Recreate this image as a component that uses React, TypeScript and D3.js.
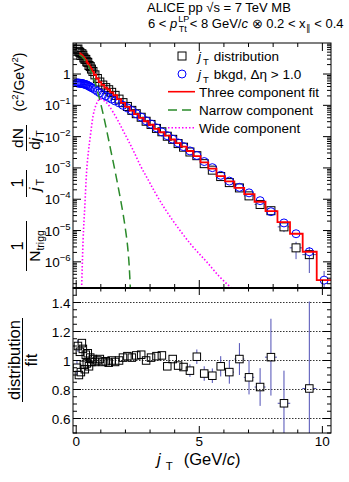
import React from "react";
import * as d3 from "d3";

const FONT = "'Liberation Sans', Arial, Helvetica, sans-serif";

// bin centres (jT, GeV/c)
const jT = [0.03, 0.07, 0.11, 0.15, 0.19, 0.23, 0.27, 0.31, 0.35, 0.39, 0.43, 0.47,
  0.52, 0.57, 0.62, 0.68, 0.76, 0.86, 0.96,
  1.08, 1.2, 1.32, 1.44, 1.58, 1.74, 1.9,
  2.08, 2.26, 2.44, 2.64, 2.84, 3.04, 3.26, 3.48, 3.7, 3.92,
  4.14, 4.36, 4.62, 4.9, 5.2, 5.53, 5.87, 6.22, 6.63,
  7.02, 7.47, 7.91, 8.44, 8.93, 9.47, 10.07];

// jT distribution (black squares)
const distVals = [6.0, 6.3, 5.2, 4.9, 3.9, 4.46, 4.0, 3.29, 2.97, 2.93, 2.46, 2.35,
  1.87, 1.73, 1.44, 1.21, 0.94, 0.72, 0.555,
  0.445, 0.368, 0.315, 0.26, 0.208, 0.158, 0.122,
  0.092, 0.069, 0.054, 0.0416, 0.031, 0.0245, 0.0183, 0.0143, 0.0103, 0.0082,
  0.006, 0.0046, 0.00323, 0.00246, 0.00137, 8.5e-4, 5.3e-4, 3.4e-4, 2.3e-4,
  1.28e-4, 6.8e-5, 4.3e-5, 1.31e-5, 2.8e-6, 1.7e-6, null];

// jT bkgd, deta > 1.0 (blue circles)
const bkgdVals = [0.52, 0.52, 0.51, 0.51, 0.5, 0.5, 0.49, 0.48, 0.47, 0.46, 0.45, 0.43,
  0.41, 0.39, 0.37, 0.35, 0.32, 0.28, 0.25,
  0.22, 0.2, 0.178, 0.158, 0.138, 0.12, 0.1,
  0.083, 0.068, 0.054, 0.042, 0.032, 0.025, 0.019, 0.0141, 0.0107, 0.0083,
  0.0063, 0.0048, 0.0035, 0.0025, 0.0016, 0.00102, 5.8e-4, 3.8e-4, 2.4e-4,
  1.6e-4, 9.0e-5, 4.0e-5, 1.75e-5, 7.9e-6, 2.1e-6, 2.6e-7];
const bkgdErrJT = [7.91, 8.44, 8.93, 9.47, 10.07];
const bkgdErrVals = [6e-6, 3e-6, 1.5e-6, 0.8e-6, 2.5e-7];

// three component fit (red histogram)
const fitVals = [null, null, null, 4.6, 4.27, 3.98, 3.72, 3.39, 3.16, 2.82, 2.51, 2.24,
  1.95, 1.7, 1.45, 1.2, 0.95, 0.72, 0.55,
  0.45, 0.37, 0.32, 0.26, 0.21, 0.158, 0.12,
  0.089, 0.068, 0.052, 0.04, 0.031, 0.024, 0.0178, 0.0138, 0.0107, 0.0081,
  0.0062, 0.0048, 0.00347, 0.0024, 0.00151, 9.5e-4, 5.5e-4, 3.7e-4, 2.3e-4,
  1.45e-4, 8.3e-5, 4.2e-5, 1.86e-5, 7.9e-6, 2.1e-6, 2.6e-7];

// distribution / fit
const ratioVals = [0.95, 1.1, 0.9, 1.06, 0.92, 1.12, 1.08, 0.97, 0.94, 1.04, 0.98, 1.05,
  0.96, 1.02, 0.99, 1.01, 0.99, 1.0, 1.01,
  0.99, 0.995, 0.985, 1.0, 0.99, 1.0, 1.02,
  1.03, 1.02, 1.035, 1.04, 1.0, 1.02, 1.03, 1.035, 0.96, 1.01,
  0.965, 0.955, 0.93, 1.026, 0.91, 0.895, 0.96, 0.92, 1.01,
  0.884, 0.817, 1.023, 0.705, 0.35, 0.807, null];
const ratioErrs = [0.05, 0.04, 0.03, 0.025, 0.02, 0.02, 0.02, 0.015, 0.015, 0.015, 0.015, 0.015,
  0.012, 0.012, 0.012, 0.012, 0.01, 0.01, 0.01,
  0.01, 0.01, 0.01, 0.01, 0.01, 0.01, 0.01,
  0.012, 0.012, 0.012, 0.012, 0.014, 0.015, 0.016, 0.018, 0.02, 0.02,
  0.025, 0.023, 0.043, 0.05, 0.05, 0.05, 0.07, 0.08, 0.11,
  0.118, 0.13, 0.265, 0.225, 0.2, 0.6, null];

// narrow component (green dashed)
const narrowJT = [0.12, 0.2, 0.3, 0.4, 0.5, 0.6, 0.7, 0.8, 0.9, 1.0, 1.1, 1.2, 1.3, 1.4,
  1.5, 1.6, 1.7, 1.8, 1.9, 2.0, 2.1, 2.15, 2.2];
const narrowVals = [4.1, 3.8, 3.2, 2.5, 1.8, 1.2, 0.74, 0.42, 0.22, 0.11, 0.05, 0.022, 0.0092,
  3.8e-3, 1.6e-3, 6.5e-4, 2.6e-4, 1.0e-4, 3.6e-5, 1.1e-5, 2.5e-6, 8e-7, 1.4e-7];

// wide component (magenta dotted)
const wideJT = [0.22, 0.28, 0.35, 0.42, 0.5, 0.56, 0.69, 0.8, 0.9, 0.96, 1.1, 1.3, 1.5, 1.7,
  1.9, 2.1, 2.35, 2.59, 2.9, 3.2, 3.6, 4.2, 4.7, 5.3, 5.8, 6.33];
const wideVals = [1.4e-7, 5.0e-6, 5.9e-5, 7.1e-4, 3.5e-3, 8.5e-3, 0.048, 0.1, 0.145, 0.162,
  0.148, 0.105, 0.06, 0.032, 0.0158, 0.0079, 3.2e-3, 1.26e-3, 4.5e-4, 1.66e-4, 5.0e-5,
  1.05e-5, 3.3e-6, 1.0e-6, 3.5e-7, 1.4e-7];

const decadeExps = [-6, -5, -4, -3, -2, -1];
const ratioTickVals = [0.6, 0.8, 1, 1.2, 1.4];
const ratioTickLabels = ["0.6", "0.8", "1", "1.2", "1.4"];
const xTickVals = [0, 5, 10];
const xTickLabels = ["0", "5", "10"];

const ERR = "#4f4fb5";

export default function App() {
  const L = 73, R = 331, T = 43, M = 288, B = 433;
  const x = d3.scaleLinear().domain([-0.13, 10.35]).range([L, R]);
  const yDom: [number, number] = [1.46e-7, 9.8];
  const yT = d3.scaleLog().domain(yDom).range([M, T]);
  const yR = d3.scaleLinear().domain([0.5, 1.5]).range([B, M]);

  const n = jT.length;
  const edges: number[] = jT.map((v, i) => (i === 0 ? v - (jT[1] - jT[0]) / 2 : (jT[i - 1] + v) / 2));
  edges.push(jT[n - 1] + (jT[n - 1] - jT[n - 2]) / 2);

  const fitPts: [number, number][] = [];
  let lastFit = 0;
  for (let i = 0; i < n; i++) {
    const f = fitVals[i];
    if (f != null) { fitPts.push([edges[i], f]); lastFit = f; }
  }
  fitPts.push([edges[n], lastFit]);
  const fitLine = d3.line<[number, number]>().x(d => x(d[0])).y(d => yT(d[1])).curve(d3.curveStepAfter);
  const smooth = d3.line<[number, number]>().x(d => x(d[0])).y(d => yT(d[1])).curve(d3.curveMonotoneX);
  const narrowPath = smooth(narrowJT.map((v, i) => [v, narrowVals[i]] as [number, number])) || "";
  const widePath = smooth(wideJT.map((v, i) => [v, wideVals[i]] as [number, number])) || "";

  // ticks
  const topTicks: { v: number; major: boolean }[] = [];
  for (let e = -7; e <= 0; e++) {
    for (let k = 1; k <= 9; k++) {
      const v = k * Math.pow(10, e);
      if (v >= yDom[0] && v <= yDom[1]) topTicks.push({ v, major: k === 1 });
    }
  }
  const ratioMinor = d3.range(0, 21).map(i => 0.5 + i * 0.05);
  const xMinor = d3.range(0, 11);

  const MS = 8; // square size top
  const MSb = 7.5;

  const topErr: JSX.Element[] = [];
  const squares: JSX.Element[] = [];
  const circles: JSX.Element[] = [];
  for (let i = 0; i < n; i++) {
    const d = distVals[i];
    const cx = x(jT[i]);
    if (d != null) {
      const cy = yT(d);
      const f = fitVals[i];
      const re = ratioErrs[i];
      if (f != null && re != null) {
        const e = re * f;
        const yHi = yT(d + e);
        const yLo = d - e > yDom[0] ? yT(d - e) : M + 2;
        if (cy - yHi > MS / 2) topErr.push(<line key={"eu" + i} x1={cx} x2={cx} y1={yHi} y2={cy - MS / 2} />);
        if (yLo - cy > MS / 2) topErr.push(<line key={"ed" + i} x1={cx} x2={cx} y1={cy + MS / 2} y2={yLo} />);
      }
      const hw = (x(edges[i + 1]) - x(edges[i])) / 2;
      if (hw > MS / 2 + 0.5) {
        topErr.push(<line key={"hl" + i} x1={cx - hw} x2={cx - MS / 2} y1={cy} y2={cy} />);
        topErr.push(<line key={"hr" + i} x1={cx + MS / 2} x2={cx + hw} y1={cy} y2={cy} />);
      }
      squares.push(<rect key={"s" + i} x={cx - MS / 2} y={cy - MS / 2} width={MS} height={MS} />);
    }
    circles.push(<circle key={"c" + i} cx={cx} cy={yT(bkgdVals[i])} r={4} />);
  }
  bkgdErrJT.forEach((j, k) => {
    const i = jT.indexOf(j);
    const v = bkgdVals[i];
    const e = bkgdErrVals[k];
    const cx = x(j), cy = yT(v);
    const yHi = yT(v + e);
    const yLo = v - e > yDom[0] ? yT(v - e) : M + 2;
    if (cy - yHi > 4) topErr.push(<line key={"bu" + k} x1={cx} x2={cx} y1={yHi} y2={cy - 4} />);
    if (yLo - cy > 4) topErr.push(<line key={"bd" + k} x1={cx} x2={cx} y1={cy + 4} y2={yLo} />);
  });

  const ratioErrEls: JSX.Element[] = [];
  const ratioSq: JSX.Element[] = [];
  for (let i = 0; i < n; i++) {
    const r = ratioVals[i];
    const e = ratioErrs[i];
    if (r == null || e == null || r < 0.5 || r > 1.5) continue;
    const cx = x(jT[i]), cy = yR(r);
    const yHi = yR(r + e), yLo = yR(r - e);
    if (cy - yHi > MSb / 2) ratioErrEls.push(<line key={"ru" + i} x1={cx} x2={cx} y1={yHi} y2={cy - MSb / 2} />);
    if (yLo - cy > MSb / 2) ratioErrEls.push(<line key={"rd" + i} x1={cx} x2={cx} y1={cy + MSb / 2} y2={yLo} />);
    const hw = (x(edges[i + 1]) - x(edges[i])) / 2;
    if (hw > MSb / 2 + 0.5) {
      ratioErrEls.push(<line key={"rl" + i} x1={cx - hw} x2={cx - MSb / 2} y1={cy} y2={cy} />);
      ratioErrEls.push(<line key={"rr" + i} x1={cx + MSb / 2} x2={cx + hw} y1={cy} y2={cy} />);
    }
    ratioSq.push(<rect key={"q" + i} x={cx - MSb / 2} y={cy - MSb / 2} width={MSb} height={MSb} />);
  }

  return (
    <svg width={349} height={482} style={{ position: "absolute", left: 0, top: 0, background: "#fff" }}
      fontFamily={FONT}>
      <defs>
        <clipPath id="clipTop"><rect x={L} y={T} width={R - L} height={M - T} /></clipPath>
        <clipPath id="clipBot"><rect x={L} y={M} width={R - L} height={B - M} /></clipPath>
      </defs>
      <rect x={0} y={0} width={349} height={482} fill="#fff" />

      {/* header */}
      <text x={147} y={11.5} fontSize={13} fill="#000">
        ALICE pp <tspan>√</tspan><tspan style={{ textDecoration: "overline" }}>s</tspan> = 7 TeV MB
      </text>
      <text x={148} y={27.5} fontSize={13} fill="#000">
        6 &lt; <tspan fontStyle="italic">p</tspan>
        <tspan fontSize={9} dy={-5.5} dx={1}>LP</tspan>
        <tspan fontSize={9} dy={10} dx={-10.5}>Tt</tspan>
        <tspan dy={-4.5} dx={3}>&lt; 8 GeV/</tspan><tspan fontStyle="italic">c</tspan>
        <tspan> ⊗ 0.2 &lt; x</tspan><tspan fontSize={9} dy={3}>∥</tspan>
        <tspan dy={-3}> &lt; 0.4</tspan>
      </text>

      {/* bottom panel grid */}
      <g stroke="#000" strokeWidth={0.8} strokeDasharray="1.5,1.5">
        {ratioTickVals.map(v => <line key={"g" + v} x1={L} x2={R} y1={yR(v)} y2={yR(v)} />)}
      </g>

      {/* top panel data */}
      <g clipPath="url(#clipTop)">
        <g stroke={ERR} strokeWidth={1}>{topErr}</g>
        <g fill="none" stroke="#000" strokeWidth={1}>{squares}</g>
        <g fill="none" stroke="#0000ff" strokeWidth={1}>{circles}</g>
        <path d={fitLine(fitPts) || ""} fill="none" stroke="#ff0000" strokeWidth={1.8} />
        <path d={narrowPath} fill="none" stroke="#2a8a2a" strokeWidth={1.5} strokeDasharray="9,5" />
        <path d={widePath} fill="none" stroke="#ff00ff" strokeWidth={1.6} strokeDasharray="1.5,2" />
      </g>

      {/* bottom panel data */}
      <g clipPath="url(#clipBot)">
        <g stroke={ERR} strokeWidth={1}>{ratioErrEls}</g>
        <g fill="none" stroke="#000" strokeWidth={1}>{ratioSq}</g>
      </g>

      {/* frames */}
      <rect x={L} y={T} width={R - L} height={M - T} fill="none" stroke="#000" strokeWidth={1} />
      <rect x={L} y={M} width={R - L} height={B - M} fill="none" stroke="#000" strokeWidth={1} />
      <line x1={L} x2={R} y1={M} y2={M} stroke="#000" strokeWidth={2} />

      {/* ticks */}
      <g stroke="#000" strokeWidth={1}>
        {topTicks.map((t, i) => {
          const yy = yT(t.v);
          const len = t.major ? 8 : 4;
          return (
            <g key={"tt" + i}>
              <line x1={L} x2={L + len} y1={yy} y2={yy} />
              <line x1={R - len} x2={R} y1={yy} y2={yy} />
            </g>
          );
        })}
        {ratioMinor.map((v, i) => {
          const yy = yR(v);
          const major = Math.abs((v * 10) % 2) < 1e-6 || Math.abs((v * 10) % 2 - 2) < 1e-6;
          const len = major ? 8 : 4;
          return (
            <g key={"rt" + i}>
              <line x1={L} x2={L + len} y1={yy} y2={yy} />
              <line x1={R - len} x2={R} y1={yy} y2={yy} />
            </g>
          );
        })}
        {xMinor.map(v => {
          const xx = x(v);
          const maj = v % 5 === 0;
          const lt = maj ? 8 : 4;
          const lb = maj ? 7 : 3.5;
          return (
            <g key={"xt" + v}>
              <line x1={xx} x2={xx} y1={T} y2={T + lt} />
              <line x1={xx} x2={xx} y1={M} y2={M - lt} />
              <line x1={xx} x2={xx} y1={M} y2={M + lb} />
              <line x1={xx} x2={xx} y1={B} y2={B - lb} />
            </g>
          );
        })}
      </g>

      {/* tick labels */}
      <g fontSize={13.5} fill="#000">
        <text x={70.5} y={yT(1) + 5} textAnchor="end">1</text>
        {decadeExps.map(e => (
          <text key={"yl" + e} x={70.5} y={yT(Math.pow(10, e)) + 5} textAnchor="end">
            10<tspan fontSize={9.5} dy={-6}>{"−" + Math.abs(e)}</tspan>
          </text>
        ))}
        {ratioTickVals.map((v, i) => (
          <text key={"rl" + v} x={70.5} y={yR(v) + 5} textAnchor="end">{ratioTickLabels[i]}</text>
        ))}
        {xTickVals.map((v, i) => (
          <text key={"xl" + v} x={x(v)} y={446} textAnchor="middle">{xTickLabels[i]}</text>
        ))}
      </g>

      {/* x axis title */}
      <text x={157} y={465} fontSize={16.5} fill="#000">
        <tspan fontStyle="italic">j</tspan>
        <tspan fontSize={11.5} dy={5} dx={5}>T</tspan>
        <tspan dy={-5} dx={11}>(GeV/</tspan><tspan fontStyle="italic">c</tspan><tspan>)</tspan>
      </text>

      {/* top y axis title */}
      <g transform="rotate(-90)" fill="#000" fontSize={15.5}>
        <text x={-82} y={24} textAnchor="middle" fontSize={14}>
          (c<tspan fontSize={9.5} dy={-6}>2</tspan><tspan dy={6}>/GeV</tspan><tspan fontSize={9.5} dy={-6}>2</tspan><tspan dy={6}>)</tspan>
        </text>
        <text x={-138} y={23} textAnchor="middle">dN</text>
        <line x1={-151} x2={-125} y1={26.5} y2={26.5} stroke="#000" strokeWidth={1} />
        <text x={-140} y={39.5} textAnchor="middle">
          d<tspan fontStyle="italic">j</tspan><tspan fontSize={10.5} dy={4} dx={1}>T</tspan>
        </text>
        <text x={-183} y={23} textAnchor="middle" fontSize={16.5}>1</text>
        <line x1={-197} x2={-170} y1={26.5} y2={26.5} stroke="#000" strokeWidth={1} />
        <text x={-185} y={39.5} textAnchor="middle">
          <tspan fontStyle="italic">j</tspan><tspan fontSize={10.5} dy={4} dx={2}>T</tspan>
        </text>
        <text x={-246} y={23} textAnchor="middle" fontSize={16.5}>1</text>
        <line x1={-271} x2={-221} y1={26.5} y2={26.5} stroke="#000" strokeWidth={1} />
        <text x={-246} y={39.5} textAnchor="middle">
          N<tspan fontSize={10.5} dy={4}>trigg</tspan>
        </text>
      </g>

      {/* bottom y axis title */}
      <g transform="rotate(-90)" fill="#000" fontSize={16.5}>
        <text x={-360} y={19.5} textAnchor="middle">distribution</text>
        <line x1={-402} x2={-318} y1={22.5} y2={22.5} stroke="#000" strokeWidth={1} />
        <text x={-360} y={37} textAnchor="middle">fit</text>
      </g>

      {/* legend */}
      <g fontSize={13.5} fill="#000">
        <rect x={178} y={52} width={8} height={8} fill="none" stroke="#000" strokeWidth={1} />
        <text x={198} y={61}>
          <tspan fontStyle="italic">j</tspan><tspan fontSize={9.5} dy={4} dx={2}>T</tspan><tspan dy={-4} dx={5}>distribution</tspan>
        </text>
        <circle cx={182} cy={74} r={4} fill="none" stroke="#0000ff" strokeWidth={1} />
        <text x={198} y={79}>
          <tspan fontStyle="italic">j</tspan><tspan fontSize={9.5} dy={4} dx={2}>T</tspan><tspan dy={-4} dx={5}>bkgd, Δη &gt; 1.0</tspan>
        </text>
        <line x1={168} x2={195} y1={91.7} y2={91.7} stroke="#ff0000" strokeWidth={1.6} />
        <text x={199} y={96.7}>Three component fit</text>
        <line x1={168} x2={195} y1={110} y2={110} stroke="#2a8a2a" strokeWidth={1.5} strokeDasharray="9,5" />
        <text x={199} y={115}>Narrow component</text>
        <line x1={168} x2={195} y1={127.7} y2={127.7} stroke="#ff00ff" strokeWidth={1.6} strokeDasharray="1.5,2" />
        <text x={199} y={132.7}>Wide component</text>
      </g>
    </svg>
  );
}
